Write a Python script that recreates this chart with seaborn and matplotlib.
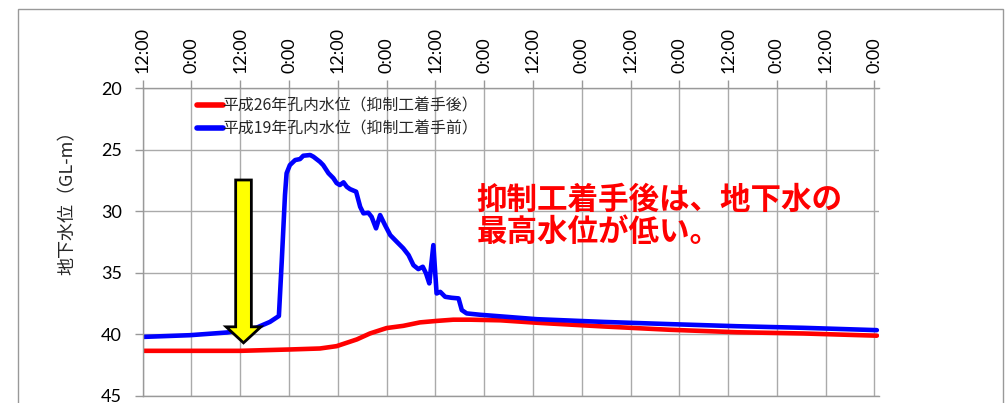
import numpy as np
import pandas as pd
import matplotlib
matplotlib.use("Agg")
import matplotlib.pyplot as plt
import matplotlib.patches as mpatches
import seaborn as sns

# ---- data ----
blue_label = "平成19年孔内水位（抑制工着手前）"
red_label = "平成26年孔内水位（抑制工着手後）"

blue_hours = [0, 11.6, 20.7, 28.0, 31.3, 33.5, 34.2, 35.0, 35.4, 36.2, 37.5, 38.7, 39.5,
              41.2, 42.0, 43.6, 44.4, 45.7, 46.9, 47.7, 48.5, 49.4, 50.2, 51.0, 52.5,
              53.5, 54.3, 55.5, 56.3, 57.4, 58.4, 59.6, 60.9, 62.5, 64.1, 65.4, 66.6,
              67.8, 68.9, 69.7, 70.5, 71.5, 72.3, 73.2, 74.4, 76.0, 77.7, 78.5, 79.7,
              83.0, 97.0, 113.3, 129.7, 146.2, 162.5, 180.6]
blue_level = [40.2, 40.06, 39.84, 39.45, 38.98, 38.5, 34.1, 28.67, 26.9, 26.24, 25.83, 25.75, 25.48,
              25.42, 25.56, 25.97, 26.24, 26.9, 27.3, 27.7, 27.86, 27.64, 28.0, 28.19, 28.4,
              29.63, 30.16, 30.11, 30.44, 31.38, 30.3, 31.11, 31.93, 32.47, 33.0, 33.55, 34.37,
              34.69, 34.5, 35.04, 35.85, 32.74, 36.67, 36.54, 36.94, 37.02, 37.07, 38.02, 38.29,
              38.4, 38.76, 38.98, 39.16, 39.33, 39.46, 39.65]

red_hours = [0, 24.0, 36.2, 43.6, 47.7, 52.7, 55.9, 60.0, 64.1, 68.2, 72.3, 76.4, 80.5,
             88.0, 97.0, 113.3, 129.7, 146.2, 162.5, 180.6]
red_level = [41.33, 41.33, 41.22, 41.14, 40.95, 40.4, 39.92, 39.48, 39.3, 39.02, 38.9, 38.8, 38.8,
             38.85, 39.05, 39.35, 39.62, 39.82, 39.92, 40.1]

tick_hours = list(range(0, 181, 12))
tick_labels = ["12:00" if i % 2 == 0 else "0:00" for i in range(len(tick_hours))]
y_ticks = [20, 25, 30, 35, 40, 45]

note_text = "抑制工着手後は、地下水の\n最高水位が低い。"
ylabel_text = "地下水位（GL-m）"

# arrow (annotation) geometry in data units
ARROW_X = 24.8
ARROW_TOP = 27.45
ARROW_TIP = 40.68

# ---- build frame ----
df = pd.concat([
    pd.DataFrame({"hour": red_hours, "level": red_level, "series": red_label}),
    pd.DataFrame({"hour": blue_hours, "level": blue_level, "series": blue_label}),
], ignore_index=True)

sns.set_theme(style="white")
plt.rcParams["font.family"] = ["Noto Sans CJK JP", "DejaVu Sans"]

fig = plt.figure(figsize=(10.07, 4.03), dpi=100)
ax = fig.add_axes([142.7 / 1007, 1 - 396 / 403, (879.3 - 142.7) / 1007, (396 - 88.3) / 403])

sns.lineplot(data=df, x="hour", y="level", hue="series",
             palette={red_label: "#ff0000", blue_label: "#0000ff"},
             hue_order=[red_label, blue_label], linewidth=3.3, ax=ax,
             sort=False, estimator=None)

ax.set_xlim(0, 181.2)
ax.set_ylim(45, 20)
ax.set_yticks(y_ticks)
ax.set_xticks(tick_hours)
ax.set_xticklabels(tick_labels, rotation=90)
ax.xaxis.tick_top()
ax.xaxis.set_label_position("top")
ax.set_xlabel("")
ax.set_ylabel(ylabel_text, fontsize=13)
ax.yaxis.set_label_coords(-0.09, 0.643)
ax.tick_params(axis="x", which="major", direction="out", length=6, width=1,
               color="#999999", pad=5, labelsize=13, top=True, bottom=False)
ax.tick_params(axis="y", which="major", direction="out", length=6, width=1,
               color="#999999", pad=9, labelsize=13, left=True)
for lab in ax.get_xticklabels() + ax.get_yticklabels():
    lab.set_family(["Lato", "DejaVu Sans"])
    lab.set_color("#000000")

ax.grid(True, color="#aaaaaa", linewidth=1.0)
for side in ["left", "top", "bottom"]:
    ax.spines[side].set_color("#999999")
    ax.spines[side].set_linewidth(1.0)
ax.spines["right"].set_visible(False)

# arrow
arrow = mpatches.FancyArrow(ARROW_X, ARROW_TOP, 0, ARROW_TIP - ARROW_TOP,
                            width=3.86, head_width=8.54, head_length=1.3,
                            length_includes_head=True, facecolor="#ffff00",
                            edgecolor="black", linewidth=2.0, zorder=5)
ax.add_patch(arrow)

ax.text(82.2, 27.75, note_text, color="#ff0000", fontsize=22, fontweight="bold",
        ha="left", va="top", linespacing=1.0, zorder=6)

leg = ax.legend(loc="upper left", bbox_to_anchor=(0.074, 0.97), frameon=False,
                fontsize=11.4, handlelength=1.6, handletextpad=0.0, borderpad=0,
                borderaxespad=0, labelspacing=0.35)
for line in leg.get_lines():
    line.set_linewidth(4)

# outer frame
fig.patches.append(mpatches.Rectangle((17.7 / 1007, -0.1), (1002.7 - 17.7) / 1007,
                                      1.1 - 9.3 / 403, transform=fig.transFigure,
                                      fill=False, edgecolor="#999999", linewidth=1.0))

fig.savefig("out.png", dpi=100)
